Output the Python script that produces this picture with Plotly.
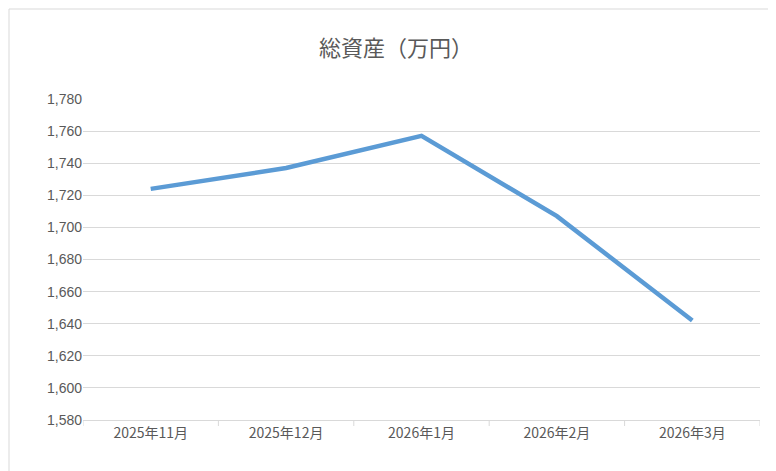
import plotly.graph_objects as go

months = ["2025年11月", "2025年12月", "2026年1月", "2026年2月", "2026年3月"]
total_assets = [1724, 1737, 1757, 1707, 1642]

fig = go.Figure(go.Scatter(x=list(range(len(months))), y=total_assets, mode="lines",
                           line=dict(color="#5B9BD5", width=4.5)))

pw, ph = 677, 321
fig.update_layout(
    width=776, height=471,
    margin=dict(l=75, r=24, t=91, b=59, autoexpand=False),
    paper_bgcolor="white", plot_bgcolor="white",
    font=dict(family="Noto Sans CJK JP, Liberation Sans", color="#595959", size=14),
    title=dict(text="総資産（万円）", x=0.5, xanchor="center", y=0.915, yanchor="middle",
               font=dict(size=22, color="#595959"), automargin=False),
    showlegend=False,
)
fig.update_xaxes(range=[-0.5, 4.5], tickvals=list(range(len(months))), ticktext=months,
                 showgrid=False, showline=True, linecolor="#D9D9D9", zeroline=False,
                 ticks="", tickfont=dict(size=14), automargin=False)
fig.update_yaxes(range=[1580, 1780], dtick=20, tickformat=",d", showgrid=True,
                 gridcolor="#D9D9D9", gridwidth=1, zeroline=False, showline=False,
                 tickfont=dict(size=14, family="Liberation Sans"), automargin=False)
# category boundary tick marks
for i in range(6):
    fig.add_shape(type="line", xref="x", yref="paper", x0=i - 0.5, x1=i - 0.5,
                  y0=0, y1=-6 / ph, line=dict(color="#D9D9D9", width=1))
# chart border
fig.add_shape(type="rect", xref="paper", yref="paper",
              x0=-74 / pw, x1=1 + 23 / pw, y0=-58 / ph, y1=1 + 90 / ph,
              line=dict(color="#D9D9D9", width=1))
fig.write_html("out.html")
